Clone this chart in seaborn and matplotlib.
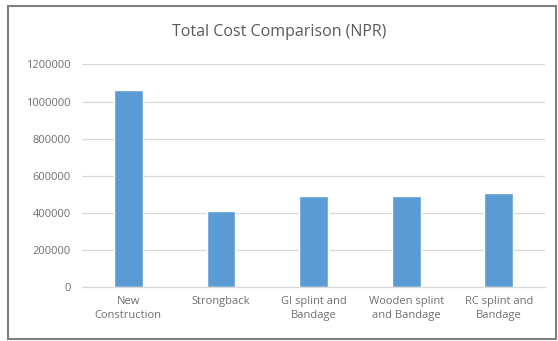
import matplotlib
matplotlib.use('Agg')
import matplotlib.pyplot as plt
import seaborn as sns
import pandas as pd
from matplotlib.patches import Rectangle

# Values
categories = ['New\nConstruction', 'Strongback', 'GI splint and\nBandage',
              'Wooden splint\nand Bandage', 'RC splint and\nBandage']
total_cost = [1060000, 411000, 491000, 491000, 508000]
y_ticks = [0, 200000, 400000, 600000, 800000, 1000000, 1200000]

df = pd.DataFrame({'category': categories, 'cost': total_cost})

sns.set_theme(style='white')
plt.rcParams['font.family'] = ['Open Sans', 'DejaVu Sans']

fig = plt.figure(figsize=(5.58, 3.41), dpi=100)
ax = fig.add_axes([0.147, 0.157, 0.830, 0.654])

sns.barplot(data=df, x='category', y='cost', color='#5B9BD5', saturation=1,
            width=0.31, ax=ax)

ax.set_ylim(0, 1200000)
ax.set_yticks(y_ticks)
ax.set_yticklabels([str(v) for v in y_ticks])
ax.yaxis.grid(True, color='#d9d9d9', linewidth=0.9)
ax.set_axisbelow(True)
for side in ['top', 'right', 'left']:
    ax.spines[side].set_visible(False)
ax.spines['bottom'].set_color('#d9d9d9')
ax.spines['bottom'].set_linewidth(0.9)
ax.tick_params(axis='y', length=0, pad=8, labelsize=8, labelcolor='#6f6f6f')
ax.tick_params(axis='x', length=0, pad=6, labelsize=8, labelcolor='#6f6f6f')
for lbl in ax.get_xticklabels():
    lbl.set_linespacing(1.45)
ax.set_xlabel('')
ax.set_ylabel('')

fig.text(0.5, 0.905, 'Total Cost Comparison (NPR)', ha='center', va='center',
         fontsize=11.5, color='#595959')

frame = Rectangle((8 / 558, 1 - 339 / 341), 548 / 558, 333 / 341,
                  transform=fig.transFigure, fill=False,
                  edgecolor='#7f7f7f', linewidth=1.5)
fig.patches.append(frame)

fig.savefig('out.png', dpi=100)
plt.close(fig)
